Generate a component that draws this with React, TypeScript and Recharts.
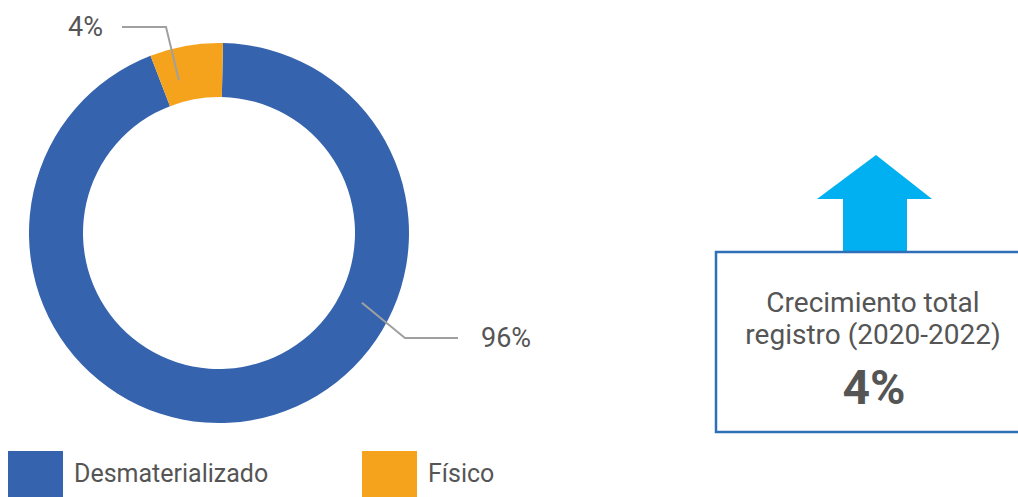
import { Pie, PieChart, Cell } from 'recharts'

const categories = ['Desmaterializado', 'Físico']
const shares = [93.8, 6.2]
const shareLabels = ['96%', '4%']
const growthTitle = ['Crecimiento total', 'registro (2020-2022)']
const growthValue = '4%'

const COLORS = ['#3563ad', '#f5a31d']
const TEXT_GRAY = '#555555'
const LINE_GRAY = '#a0a0a0'

// leader line geometry, relative to the pie centre
const LABEL_GEO = [
  { angle: -26, radius: 159, elbow: [186, 105], end: [239, 105], textX: 262, anchor: 'start' },
  { angle: 104.7, radius: 158, elbow: [-53, -206], end: [-97, -206], textX: -116, anchor: 'end' },
]

const data = categories.map((name, i) => ({ name, value: shares[i], label: shareLabels[i] }))

const RAD = Math.PI / 180

const renderLabel = (props: any) => {
  const { cx, cy, index } = props
  const g = LABEL_GEO[index]
  const sx = cx + g.radius * Math.cos(g.angle * RAD)
  const sy = cy - g.radius * Math.sin(g.angle * RAD)
  const ex = cx + g.elbow[0]
  const ey = cy + g.elbow[1]
  const fx = cx + g.end[0]
  const fy = cy + g.end[1]
  return (
    <g key={`lbl-${index}`}>
      <polyline points={`${sx},${sy} ${ex},${ey} ${fx},${fy}`} fill="none" stroke={LINE_GRAY} strokeWidth={2} />
      <text x={cx + g.textX} y={fy} dy="0.35em" textAnchor={g.anchor} fontSize={27} fill={TEXT_GRAY} fontFamily="Roboto">
        {data[index].label}
      </text>
    </g>
  )
}

const ChartLegend = () => {
  const lefts = [8, 362]
  return (
    <div style={{ position: 'absolute', left: 0, top: 451, width: 1018, height: 56 }}>
      {data.map((d, i) => (
        <div key={d.name} style={{ position: 'absolute', left: lefts[i], top: 0, display: 'flex' }}>
          <div style={{ width: 55, height: 55, background: COLORS[i] }} />
          <span style={{ marginLeft: 11, fontFamily: 'Roboto', fontSize: 25, color: TEXT_GRAY, lineHeight: '46px' }}>
            {d.name}
          </span>
        </div>
      ))}
    </div>
  )
}

export default function App() {
  return (
    <div style={{ position: 'absolute', left: 0, top: 0, width: 1018, height: 497, overflow: 'hidden', background: '#fff' }}>
      <PieChart width={1018} height={497} margin={{ top: 0, right: 0, bottom: 0, left: 0 }}>
        <Pie
          data={data}
          dataKey="value"
          nameKey="name"
          cx={219}
          cy={233}
          innerRadius={136}
          outerRadius={190}
          startAngle={88.8}
          endAngle={-271.2}
          stroke="none"
          label={renderLabel}
          labelLine={false}
          isAnimationActive={false}
        >
          {data.map((d, i) => (
            <Cell key={d.name} fill={COLORS[i]} />
          ))}
        </Pie>
      </PieChart>
      <ChartLegend />
      <svg width={1018} height={497} style={{ position: 'absolute', left: 0, top: 0, pointerEvents: 'none' }}>
        <polygon points="876,155 932,199 907,199 907,253 843,253 843,199 817,199" fill="#00b0f0" />
        <rect x={716} y={252} width={320} height={180} fill="#fff" stroke="#2f6fb7" strokeWidth={2.5} />
        <text x={873} y={302} dy="0.35em" textAnchor="middle" fontFamily="Roboto" fontSize={28} fill={TEXT_GRAY}>
          {growthTitle[0]}
        </text>
        <text x={873} y={334} dy="0.35em" textAnchor="middle" fontFamily="Roboto" fontSize={28} fill={TEXT_GRAY}>
          {growthTitle[1]}
        </text>
        <text x={874} y={387} dy="0.35em" textAnchor="middle" fontFamily="Roboto" fontWeight={700} fontSize={48} fill={TEXT_GRAY}>
          {growthValue}
        </text>
      </svg>
    </div>
  )
}
